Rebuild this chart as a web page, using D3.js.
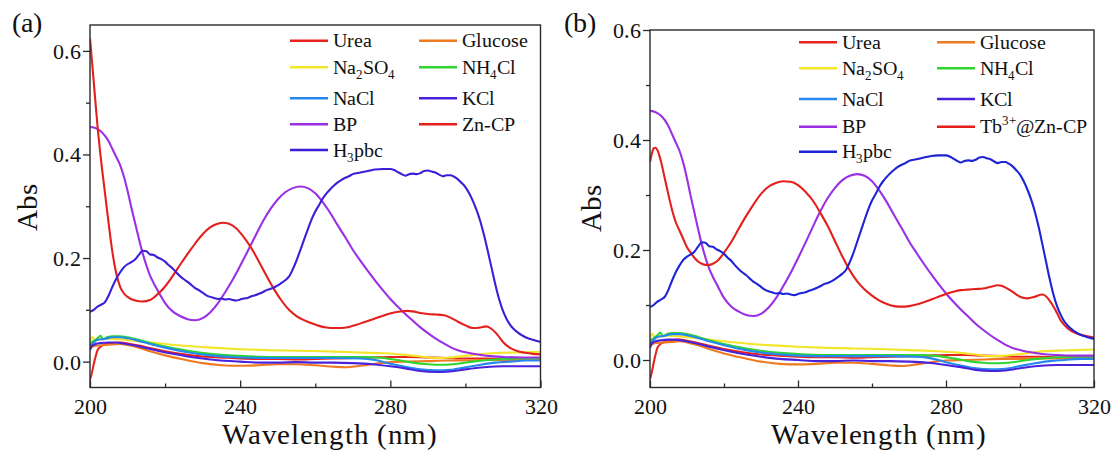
<!DOCTYPE html>
<html><head><meta charset="utf-8">
<script src="https://cdn.jsdelivr.net/npm/d3@7"></script>
<style>
@font-face{font-family:"RefSerif";src:local("Liberation Serif"),local("LiberationSerif"),local("LiberationSerif-Regular"),local("Times New Roman"),local("DejaVu Serif"),local("DejaVuSerif"),local("Noto Serif"),local("NotoSerif-Regular");}
body{margin:0;background:#fff}
</style>
</head><body>
<svg id="chart" width="1116" height="452"></svg>
<script>
const FONT = "RefSerif,'Liberation Serif','DejaVu Serif','Noto Serif','Times New Roman',Times,serif";
// ---------- tick values ----------
const xTickValues = [200, 240, 280, 320];
const xMinorValues = [220, 260, 300];
const yTickValues = [0.0, 0.2, 0.4, 0.6];
const yMinorValues = [0.1, 0.3, 0.5];

// ---------- series data: [wavelength nm, Abs] ----------
const urea = [[200,-0.035],[200.5,-0.022],[201,-0.005],[201.5,0.01],[202,0.022],[203,0.03],[204,0.033],[206,0.036],[208,0.037],[210,0.035],[213,0.031],[216,0.026],[220,0.02],[225,0.014],[230,0.01],[235,0.008],[240,0.006],[245,0.005],[250,0.005],[255,0.004],[260,0.005],[265,0.006],[270,0.007],[275,0.008],[280,0.009],[285,0.009],[290,0.008],[295,0.007],[300,0.006],[305,0.006],[310,0.005],[315,0.004],[320,0.004]];
const glucose = [[200,0.026],[201,0.03],[202,0.031],[204,0.032],[206,0.033],[208,0.034],[210,0.032],[213,0.027],[216,0.02],[220,0.012],[225,0.004],[230,-0.003],[235,-0.007],[240,-0.008],[245,-0.007],[250,-0.005],[255,-0.005],[260,-0.007],[265,-0.01],[268,-0.011],[272,-0.008],[276,-0.004],[280,-0.001],[285,0.0],[290,0.001],[295,0.002],[300,0.002],[305,0.003],[310,0.003],[315,0.003],[320,0.003]];
const na2so4 = [[200,0.04],[200.7,0.048],[201.3,0.038],[202,0.045],[203,0.043],[205,0.044],[208,0.043],[212,0.04],[216,0.037],[220,0.034],[226,0.03],[232,0.027],[240,0.024],[248,0.022],[255,0.021],[262,0.02],[270,0.018],[278,0.016],[284,0.013],[288,0.01],[292,0.007],[296,0.008],[300,0.011],[305,0.015],[310,0.017],[315,0.018],[320,0.019]];
const nh4cl = [[200,0.035],[201,0.04],[202,0.045],[202.8,0.05],[203.5,0.043],[204.5,0.047],[206,0.049],[208,0.049],[210,0.047],[213,0.042],[216,0.036],[220,0.029],[226,0.021],[232,0.015],[240,0.011],[248,0.009],[256,0.009],[264,0.009],[272,0.009],[278,0.007],[282,0.003],[286,-0.002],[290,-0.005],[294,-0.006],[298,-0.004],[302,0.0],[306,0.003],[310,0.005],[315,0.006],[320,0.006]];
const nacl = [[200,0.03],[201,0.037],[202,0.042],[204,0.044],[206,0.047],[208,0.047],[210,0.045],[213,0.04],[216,0.034],[220,0.027],[226,0.018],[232,0.012],[240,0.008],[248,0.007],[256,0.007],[264,0.007],[272,0.006],[276,0.003],[280,-0.004],[284,-0.01],[288,-0.015],[292,-0.017],[296,-0.016],[300,-0.011],[304,-0.006],[308,-0.002],[312,0.0],[316,0.002],[320,0.002]];
const kcl = [[200,0.022],[200.5,0.03],[201.5,0.034],[203,0.036],[205,0.037],[207,0.037],[209,0.035],[212,0.031],[215,0.026],[218,0.021],[222,0.015],[226,0.01],[230,0.006],[235,0.002],[240,0.0],[245,-0.002],[250,-0.002],[255,-0.001],[260,-0.002],[265,-0.002],[270,-0.003],[275,-0.005],[280,-0.009],[284,-0.013],[288,-0.018],[292,-0.02],[296,-0.019],[300,-0.015],[305,-0.011],[310,-0.009],[315,-0.009],[320,-0.009]];
const bp = [[200,0.453],[201,0.452],[202,0.449],[203,0.444],[204,0.436],[205,0.425],[206,0.41],[207,0.395],[208,0.38],[209,0.358],[210,0.33],[211,0.298],[212,0.268],[213,0.238],[214,0.21],[215,0.186],[216,0.166],[217,0.151],[218,0.138],[219,0.125],[220,0.113],[222,0.097],[224,0.088],[226,0.082],[228,0.08],[230,0.084],[232,0.095],[234,0.112],[236,0.134],[238,0.158],[240,0.185],[242,0.213],[244,0.242],[246,0.27],[248,0.294],[250,0.313],[252,0.327],[254,0.335],[256,0.338],[258,0.335],[260,0.325],[262,0.308],[264,0.287],[266,0.263],[268,0.24],[270,0.216],[272,0.195],[274,0.175],[276,0.156],[278,0.138],[280,0.121],[282,0.106],[284,0.092],[286,0.079],[288,0.066],[290,0.055],[292,0.045],[294,0.036],[296,0.028],[298,0.022],[300,0.018],[302,0.015],[304,0.013],[306,0.011],[310,0.009],[315,0.008],[320,0.008]];
const h3pbc = [[200,0.096],[201,0.1],[202,0.106],[203,0.11],[204,0.115],[205,0.128],[206,0.145],[207,0.16],[208,0.172],[209,0.182],[210,0.188],[211,0.192],[212,0.197],[213,0.206],[214,0.214],[215,0.213],[216,0.207],[217,0.206],[218,0.201],[219,0.198],[220,0.193],[221,0.186],[222,0.18],[223,0.172],[224,0.165],[225,0.159],[226,0.154],[227,0.148],[228,0.142],[229,0.138],[230,0.133],[231,0.128],[232,0.125],[233,0.123],[234,0.121],[235,0.122],[236,0.12],[237,0.121],[238,0.119],[239,0.118],[240,0.12],[241,0.122],[242,0.123],[243,0.126],[244,0.128],[245,0.131],[246,0.134],[247,0.138],[248,0.14],[249,0.143],[250,0.147],[251,0.152],[252,0.157],[253,0.164],[254,0.178],[255,0.195],[256,0.215],[257,0.235],[258,0.255],[259,0.274],[260,0.29],[261,0.302],[262,0.315],[263,0.325],[264,0.333],[265,0.34],[266,0.346],[267,0.351],[268,0.355],[269,0.358],[270,0.362],[272,0.365],[274,0.368],[276,0.371],[278,0.372],[280,0.372],[281,0.37],[282,0.366],[283,0.362],[284,0.359],[285,0.362],[286,0.363],[287,0.362],[288,0.364],[289,0.368],[290,0.369],[291,0.367],[292,0.365],[293,0.361],[294,0.358],[295,0.36],[296,0.36],[297,0.357],[298,0.352],[299,0.345],[300,0.337],[301,0.325],[302,0.31],[303,0.292],[304,0.27],[305,0.243],[306,0.212],[307,0.18],[308,0.148],[309,0.12],[310,0.098],[311,0.082],[312,0.07],[313,0.062],[314,0.056],[315,0.051],[316,0.047],[317,0.044],[318,0.042],[319,0.04],[320,0.038]];
const znCP = [[200,0.624],[201,0.54],[202,0.455],[203,0.385],[204,0.325],[205,0.265],[206,0.21],[207,0.17],[208,0.145],[209,0.132],[210,0.125],[212,0.118],[214,0.116],[216,0.119],[218,0.13],[220,0.145],[222,0.165],[224,0.187],[226,0.208],[228,0.228],[230,0.246],[232,0.259],[234,0.266],[235.5,0.268],[237,0.266],[239,0.257],[241,0.24],[243,0.219],[245,0.193],[247,0.166],[249,0.14],[251,0.118],[253,0.1],[255,0.088],[257,0.08],[259,0.074],[261,0.069],[263,0.066],[265,0.065],[267,0.065],[269,0.067],[271,0.071],[273,0.076],[275,0.081],[277,0.086],[279,0.091],[281,0.095],[283,0.097],[284.5,0.098],[286,0.097],[288,0.094],[290,0.092],[292,0.091],[294,0.09],[296,0.085],[298,0.077],[300,0.07],[302,0.065],[304,0.066],[305.5,0.068],[307,0.063],[308.5,0.052],[310,0.038],[312,0.026],[314,0.02],[316,0.017],[318,0.015],[320,0.014]];
const tbZnCP = [[200,0.36],[200.5,0.375],[201,0.385],[201.5,0.386],[202,0.382],[203,0.36],[204,0.33],[205,0.3],[206,0.272],[207,0.25],[208,0.235],[209,0.22],[210,0.205],[211,0.195],[212,0.186],[213,0.179],[214,0.175],[215,0.173],[216,0.173],[217,0.175],[218,0.179],[219,0.186],[220,0.195],[222,0.215],[224,0.239],[226,0.262],[228,0.283],[230,0.302],[232,0.315],[234,0.322],[236,0.325],[238,0.324],[240,0.318],[242,0.306],[244,0.29],[246,0.268],[248,0.244],[250,0.216],[252,0.188],[254,0.163],[256,0.143],[258,0.128],[260,0.117],[262,0.108],[264,0.102],[266,0.098],[268,0.097],[270,0.098],[272,0.101],[274,0.105],[276,0.11],[278,0.115],[280,0.12],[282,0.124],[284,0.127],[286,0.128],[288,0.129],[290,0.13],[292,0.133],[294,0.136],[295,0.135],[296,0.132],[298,0.124],[300,0.115],[302,0.112],[304,0.115],[306,0.119],[307,0.116],[308,0.108],[309.5,0.092],[311,0.072],[313,0.057],[315,0.049],[317,0.045],[320,0.041]];

// ---------- legend labels (segments: [text, mode]) ----------
const lblUrea = [["Urea",""]];
const lblGlucose = [["Glucose",""]];
const lblNa2SO4 = [["Na",""],["2","sub"],["SO",""],["4","sub"]];
const lblNH4Cl = [["NH",""],["4","sub"],["Cl",""]];
const lblNaCl = [["NaCl",""]];
const lblKCl = [["KCl",""]];
const lblBP = [["BP",""]];
const lblZnCP = [["Zn-CP",""]];
const lblTb = [["Tb",""],["3+","sup"],["@Zn-CP",""]];
const lblH3pbc = [["H",""],["3","sub"],["pbc",""]];

const C = {urea:"#e8221c", glucose:"#f07a1f", na2so4:"#f2e52a", nh4cl:"#2fd431", nacl:"#2488ee",
           kcl:"#4a22dc", bp:"#9a2fe6", zn:"#e3201c", h3a:"#3a1fd8", h3b:"#1d24d6"};

const svg = d3.select("#chart").attr("font-family", FONT);

function styleText(sel, size){
  sel.attr("font-family", FONT).style("font-family", FONT).style("font-size", size+"px").attr("fill","#111");
}

function drawPanel(p){
  const g = svg.append("g");
  const x = d3.scaleLinear().domain([200,320]).range([p.left,p.right]);
  const y = d3.scaleLinear().domain(p.ydom).range([p.bottom,p.top]);

  const clipId = "clip"+p.id;
  svg.append("clipPath").attr("id",clipId).append("rect")
    .attr("x",p.left).attr("y",p.top).attr("width",p.right-p.left).attr("height",p.bottom-p.top);

  const line = d3.line().x(d=>x(d[0])).y(d=>y(d[1])).curve(d3.curveMonotoneX);
  const lg = g.append("g").attr("clip-path",`url(#${clipId})`);
  p.series.forEach(s=>{
    lg.append("path").datum(s.data).attr("d",line)
      .attr("fill","none").attr("stroke",s.color).attr("stroke-width",2.1)
      .attr("stroke-linejoin","round");
  });

  g.append("rect").attr("x",p.left).attr("y",p.top).attr("width",p.right-p.left).attr("height",p.bottom-p.top)
    .attr("fill","none").attr("stroke","#2a2a2a").attr("stroke-width",1.4);

  const xa = g.append("g").attr("transform",`translate(0,${p.bottom})`)
    .call(d3.axisBottom(x).tickValues(xTickValues).tickSize(-7).tickFormat(d3.format("d")));
  xa.attr("font-family", FONT);
  xa.select(".domain").remove();
  xa.selectAll("line").attr("stroke","#2a2a2a").attr("stroke-width",1.3);
  styleText(xa.selectAll("text").attr("y",26).attr("dy",0), 22);
  const xm = g.append("g").attr("transform",`translate(0,${p.bottom})`)
    .call(d3.axisBottom(x).tickValues(xMinorValues).tickSize(-4).tickFormat(""));
  xm.select(".domain").remove();
  xm.selectAll("line").attr("stroke","#2a2a2a").attr("stroke-width",1.3);

  const ya = g.append("g").attr("transform",`translate(${p.left},0)`)
    .call(d3.axisLeft(y).tickValues(yTickValues).tickSize(7).tickPadding(2).tickFormat(d3.format(".1f")));
  ya.attr("font-family", FONT);
  ya.select(".domain").remove();
  ya.selectAll("line").attr("stroke","#2a2a2a").attr("stroke-width",1.3);
  styleText(ya.selectAll("text").attr("dy","0.34em"), 22);
  const ym = g.append("g").attr("transform",`translate(${p.left},0)`)
    .call(d3.axisLeft(y).tickValues(yMinorValues).tickSize(4).tickFormat(""));
  ym.select(".domain").remove();
  ym.selectAll("line").attr("stroke","#2a2a2a").attr("stroke-width",1.3);

  styleText(g.append("text").attr("x",p.xTitleX).attr("y",444).attr("text-anchor","middle")
    .style("letter-spacing","0.7px").text("Wavelength (nm)"), 29);
  styleText(g.append("text").attr("transform",`translate(${p.yTitleX},${p.yTitleY}) rotate(-90)`)
    .attr("text-anchor","middle").text("Abs"), 29);
  styleText(g.append("text").attr("x",p.tagX).attr("y",32).text(p.tag), 28);

  p.legend.forEach(it=>{
    const yy = it.row;
    g.append("line").attr("x1",it.x).attr("x2",it.x+38).attr("y1",yy).attr("y2",yy)
      .attr("stroke",it.color).attr("stroke-width",2.4);
    const t = g.append("text").attr("x",it.x+43).attr("y",yy+6.7);
    styleText(t, 20);
    let off = 0;
    it.label.forEach(seg=>{
      const ts = t.append("tspan").text(seg[0]);
      if(seg[1]==="sub"){ ts.style("font-size","13px").attr("dy",5-off); off=5; }
      else if(seg[1]==="sup"){ ts.style("font-size","13px").attr("dy",-8-off); off=-8; }
      else { ts.attr("dy",-off); off=0; }
    });
  });
}

const rowsA = [40.7, 67.3, 98.3, 124.3, 150];
const rowsB = [42.3, 68.3, 99, 126.7, 151.7];

function legendFor(rows, c1, c2, lastLabel, h3Color){
  return [
    {x:c1,row:rows[0],color:C.urea,label:lblUrea},
    {x:c2,row:rows[0],color:C.glucose,label:lblGlucose},
    {x:c1,row:rows[1],color:C.na2so4,label:lblNa2SO4},
    {x:c2,row:rows[1],color:C.nh4cl,label:lblNH4Cl},
    {x:c1,row:rows[2],color:C.nacl,label:lblNaCl},
    {x:c2,row:rows[2],color:C.kcl,label:lblKCl},
    {x:c1,row:rows[3],color:C.bp,label:lblBP},
    {x:c2,row:rows[3],color:C.zn,label:lastLabel},
    {x:c1,row:rows[4],color:h3Color,label:lblH3pbc}
  ];
}

function seriesFor(big, h3Color){
  return [
    {data:urea,color:C.urea},{data:glucose,color:C.glucose},{data:na2so4,color:C.na2so4},
    {data:nh4cl,color:C.nh4cl},{data:nacl,color:C.nacl},{data:kcl,color:C.kcl},
    {data:bp,color:C.bp},{data:big,color:C.zn},{data:h3pbc,color:h3Color}
  ];
}

drawPanel({id:"a", left:90, right:540.5, top:25, bottom:387.5, ydom:[-0.05,0.65],
  xTitleX:330, yTitleX:37, yTitleY:207, tagX:12, tag:"(a)",
  series:seriesFor(znCP, C.h3a), legend:legendFor(rowsA, 290, 419, lblZnCP, C.h3a)});

drawPanel({id:"b", left:650, right:1094, top:30, bottom:387.5, ydom:[-0.05,0.6],
  xTitleX:879, yTitleX:601, yTitleY:208, tagX:564, tag:"(b)",
  series:seriesFor(tbZnCP, C.h3b), legend:legendFor(rowsB, 799, 937, lblTb, C.h3b)});
</script>
</body></html>
